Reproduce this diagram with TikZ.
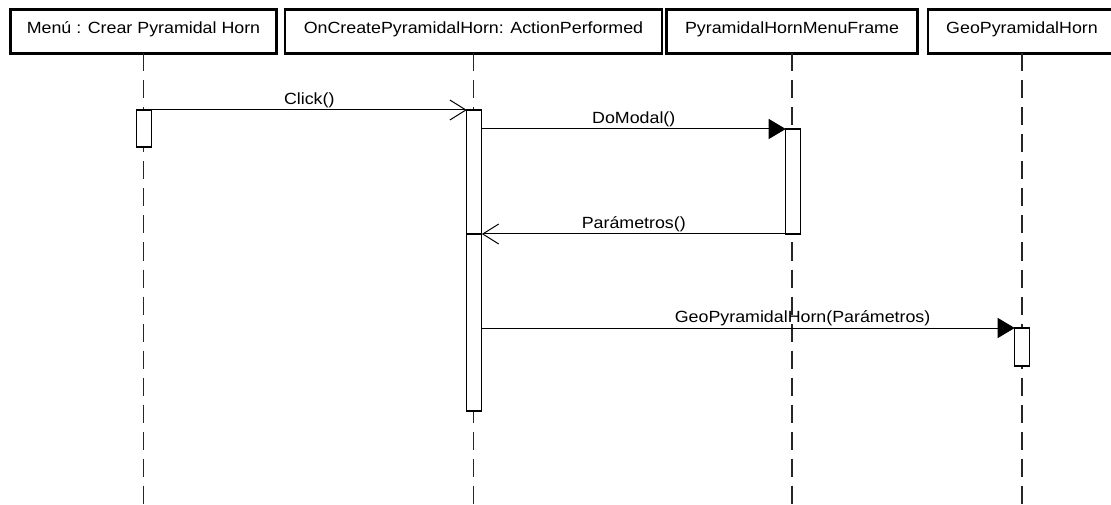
\documentclass[tikz,border=0pt]{standalone}
\usepackage{fontspec}
\setmainfont[FakeStretch=1.1]{Liberation Sans}
\usetikzlibrary{arrows.meta}
\newcommand\seqfont{\fontsize{16.2pt}{19pt}\selectfont}
\begin{document}
\begin{tikzpicture}[x=1pt,y=-1pt,
  head/.style={draw, line width=2.2pt, minimum height=44pt, inner sep=0pt, outer sep=0pt,
    text height=11.6pt, text depth=8pt, font=\seqfont},
  act/.style={draw, fill=white, line width=1.2pt, minimum width=15pt, inner sep=0pt, outer sep=0pt},
  life/.style={line width=1.4pt, dash pattern=on 18pt off 9pt, black!85},
  msg/.style={line width=1pt, line join=miter},
  sync/.style={msg, -{Triangle[length=17pt,width=20pt]}},
  reply/.style={msg, -{Straight Barb[length=16pt,width=20pt]}},
  lbl/.style={font=\seqfont, anchor=base, inner sep=0pt}]
\useasboundingbox (0,0) rectangle (1111,505);
\clip (0,0) rectangle (1111,505);

% object headers
\node[head, minimum width=266pt] (h1) at (143.5,31.5) {Menú : Crear Pyramidal Horn};
\node[head, minimum width=377pt] (h2) at (473.5,31.5) {OnCreatePyramidalHorn: ActionPerformed};
\node[head, minimum width=251pt] (h3) at (792,31.5) {PyramidalHornMenuFrame};
\node[head, minimum width=188pt] (h4) at (1022,31.5) {GeoPyramidalHorn};

% lifelines
\coordinate (bottom) at (0,505);
\foreach \h in {h1,h2,h3,h4}
  \draw[life] (\h.south) -- (\h.south |- bottom);

% activation bars
\node[act, minimum height=37pt] (a1) at (144.2,128.5) {};
\node[act, minimum height=124pt] (a2a) at (474.3,172) {};
\node[act, minimum height=177pt] (a2b) at (474.3,322.5) {};
\node[act, minimum height=105pt] (a3) at (793.2,181.5) {};
\node[act, minimum height=38pt] (a4) at (1022.2,347) {};

% messages
\draw[reply] (a1.north east) -- node[lbl, pos=0.5, yshift=5.5pt] {Click()} (a2a.north west);
\draw[sync] (a2a.east |- a3.north west) -- node[lbl, pos=0.5, yshift=5.5pt] {DoModal()} (a3.north west);
\draw[reply] (a3.south west) -- node[lbl, pos=0.5, yshift=5.5pt] {Parámetros()} (a2a.south east);
\draw[sync] (a2b.east |- a4.north west) -- node[lbl, pos=0.602, yshift=5.5pt] {GeoPyramidalHorn(Parámetros)} (a4.north west);
\end{tikzpicture}
\end{document}
